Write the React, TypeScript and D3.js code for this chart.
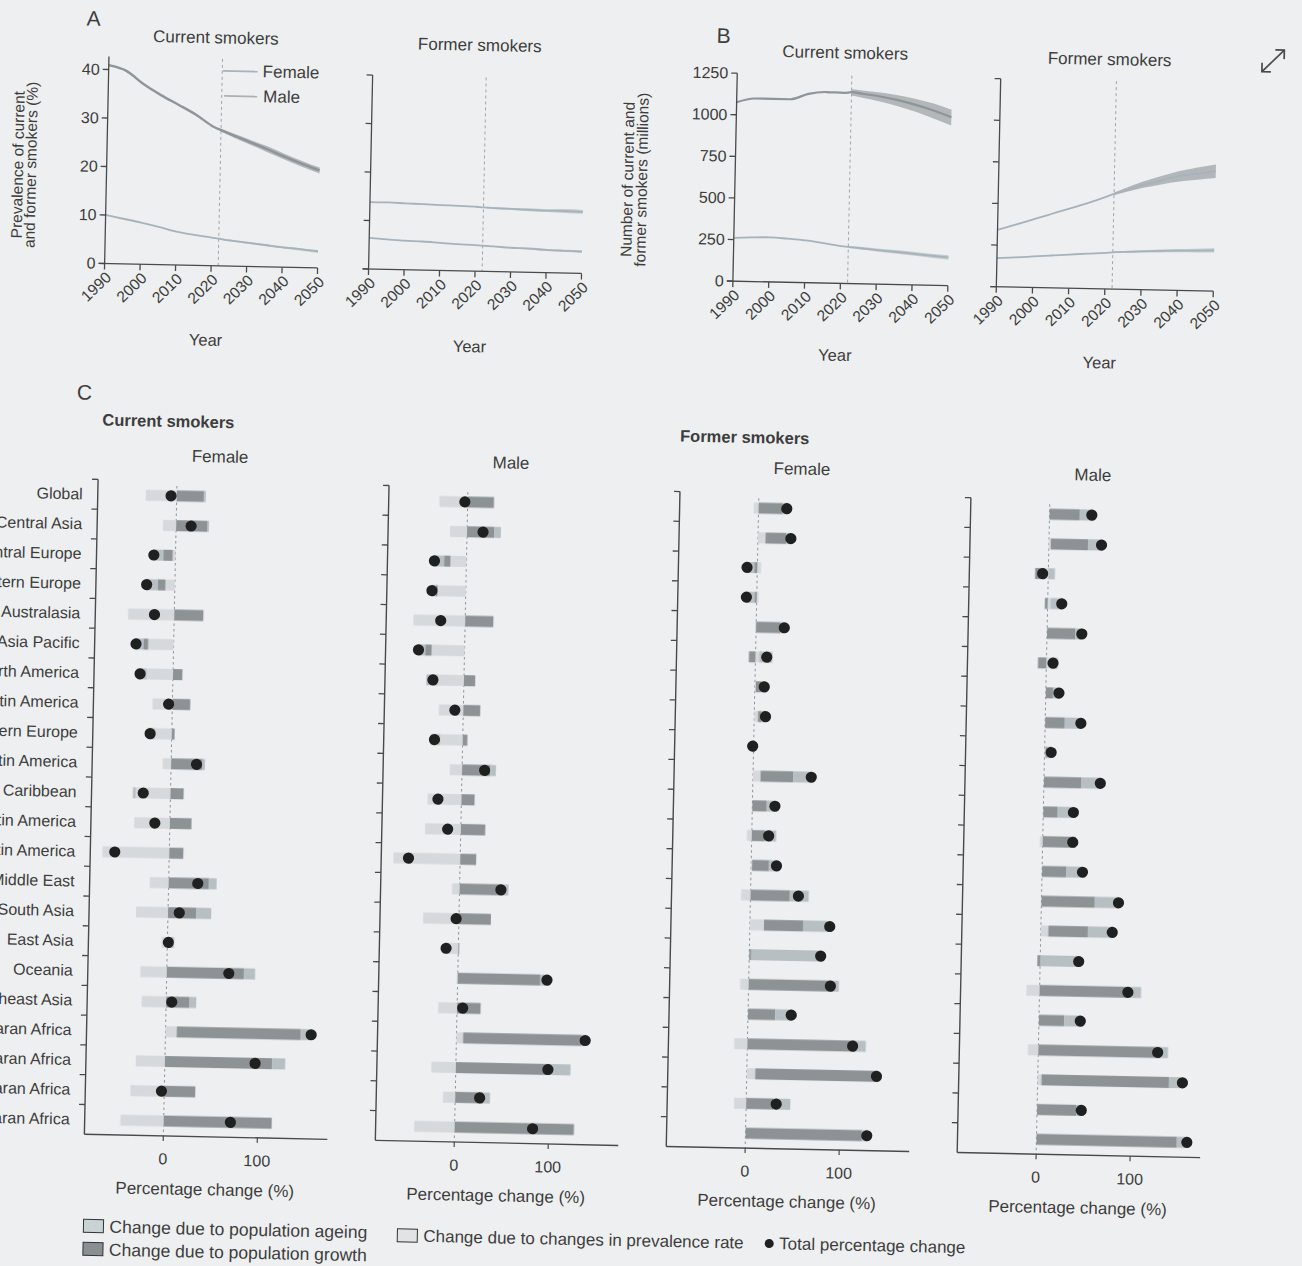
import React from 'react';
import * as d3 from 'd3';

// ---------------- data ----------------
const years = [1990, 1995, 2000, 2005, 2010, 2015, 2020, 2022, 2025, 2030, 2035, 2040, 2045, 2050];
const fcYears = [2022, 2025, 2030, 2035, 2040, 2045, 2050];
const xTickYears = [1990, 2000, 2010, 2020, 2030, 2040, 2050];
const forecastStart = 2022;

// Panel A: prevalence (%)
const prevCurMale = [40.9, 39.8, 37.1, 34.9, 33.0, 31.0, 28.6, 28.0, 27.1, 25.7, 24.3, 22.8, 21.4, 20.1];
const prevCurMaleLo = [27.7, 26.7, 25.2, 23.7, 22.2, 20.8, 19.5];
const prevCurMaleHi = [28.3, 27.5, 26.2, 24.9, 23.4, 22.0, 20.7];
const prevCurFemale = [10.0, 9.3, 8.6, 7.8, 6.9, 6.3, 5.8, 5.6, 5.3, 4.9, 4.5, 4.1, 3.8, 3.4];
const prevCurFemaleLo = [5.5, 5.1, 4.7, 4.3, 3.9, 3.5, 3.1];
const prevCurFemaleHi = [5.7, 5.5, 5.1, 4.7, 4.3, 4.0, 3.7];
const prevFormMale = [13.8, 13.8, 13.7, 13.6, 13.5, 13.4, 13.3, 13.2, 13.1, 13.0, 12.9, 12.8, 12.8, 12.7];
const prevFormMaleLo = [13.1, 12.9, 12.8, 12.6, 12.5, 12.4, 12.3];
const prevFormMaleHi = [13.3, 13.3, 13.2, 13.2, 13.1, 13.2, 13.1];
const prevFormFemale = [6.4, 6.2, 6.0, 5.9, 5.7, 5.5, 5.4, 5.3, 5.2, 5.0, 4.9, 4.7, 4.6, 4.5];
const prevFormFemaleLo = [5.2, 5.1, 4.9, 4.7, 4.5, 4.4, 4.2];
const prevFormFemaleHi = [5.4, 5.3, 5.1, 5.1, 4.9, 4.8, 4.8];

// Panel B: numbers (millions)
const numCurMale = [1075, 1100, 1100, 1100, 1135, 1148, 1145, 1150, 1142, 1128, 1108, 1082, 1050, 1012];
const numCurMaleLo = [1130, 1118, 1098, 1072, 1040, 1003, 962];
const numCurMaleHi = [1168, 1162, 1152, 1138, 1118, 1092, 1058];
const numCurFemale = [260, 265, 268, 262, 254, 240, 224, 220, 215, 205, 197, 188, 178, 170];
const numCurFemaleLo = [214, 207, 196, 186, 176, 165, 155];
const numCurFemaleHi = [226, 222, 214, 207, 199, 190, 183];
const numFormMale = [341, 375, 410, 445, 480, 515, 555, 572, 595, 630, 660, 688, 705, 722];
const numFormMaleLo = [565, 583, 612, 635, 655, 668, 680];
const numFormMaleHi = [580, 608, 650, 685, 718, 742, 762];
const numFormFemale = [171, 178, 186, 194, 202, 210, 217, 221, 225, 230, 235, 239, 242, 245];
const numFormFemaleLo = [217, 219, 223, 226, 229, 231, 232];
const numFormFemaleHi = [225, 231, 237, 244, 249, 253, 258];

const prevTicks = [0, 10, 20, 30, 40];
const numTicks = [0, 250, 500, 750, 1000, 1250];

// Panel C: decomposition of percentage change
const regions = [
  'Global', 'Central Asia', 'Central Europe', 'Eastern Europe', 'Australasia',
  'High-income Asia Pacific', 'High-income North America', 'Southern Latin America',
  'Western Europe', 'Andean Latin America', 'Caribbean', 'Central Latin America',
  'Tropical Latin America', 'North Africa and Middle East', 'South Asia', 'East Asia',
  'Oceania', 'Southeast Asia', 'Central sub-Saharan Africa', 'Eastern sub-Saharan Africa',
  'Southern sub-Saharan Africa', 'Western sub-Saharan Africa',
];

const curFemalePrev = [-33, -14, -3, -10, -49, -27, -28, -21, -18, -9, -37, -38, -71, -20, -34, -6, -28, -26, 12, -31, -36, -46];
const curFemaleGrowth = [29, 33, -10, -8, 31, -5, 10, 19, 3, 33, 14, 23, 15, 43, 30, 4, 82, 25, 132, 114, 33, 115];
const curFemaleAgeing = [2, 2, -10, -12, 0, -9, -10, 0, -8, 3, -3, 0, 0, 8, 16, 3, 12, 7, 10, 14, 0, 0];
const curFemaleTotal = [-6, 16, -23, -30, -21, -40, -35, -4, -23, 27, -29, -16, -58, 31, 12, 1, 66, 6, 155, 96, -3, 71];

const curMalePrev = [-30, -18, -17, -30, -55, -35, -28, -26, -24, -13, -36, -38, -71, -8, -38, -10, -1, -20, 7, -26, -13, -43];
const curMaleGrowth = [28, 29, -7, -2, 30, -7, 12, 18, 5, 30, 14, 26, 17, 44, 34, 1, 88, 25, 126, 100, 30, 127];
const curMaleAgeing = [0, 7, -10, -4, 0, -7, -12, 0, -10, 6, 0, 0, 0, 8, 0, -4, 6, 0, 4, 22, 7, 0];
const curMaleTotal = [-3, 17, -34, -36, -26, -49, -33, -9, -30, 24, -25, -14, -55, 44, -3, -13, 95, 6, 137, 98, 26, 83];

const formFemalePrev = [-5, 8, 4, 2, -1, 4, 1, 4, -2, 8, 0, -5, 1, -10, 15, 0, -9, 0, -14, 9, -13, 0];
const formFemaleGrowth = [26, 22, -3, -2, 26, -7, 6, 4, 1, 35, 15, 14, 18, 42, 42, 2, 88, 29, 115, 130, 29, 124];
const formFemaleAgeing = [5, 5, -10, -8, 4, 14, 3, 4, 0, 19, 9, 12, 8, 20, 25, 72, 8, 17, 11, 0, 18, 6];
const formFemaleTotal = [30, 35, -11, -11, 30, 12, 10, 12, -1, 62, 24, 18, 27, 51, 85, 76, 87, 46, 112, 138, 32, 129];

const formMalePrev = [0, 2, -4, 3, 0, 4, 0, 0, 1, 0, 0, -3, 0, 0, 8, 0, -14, 0, -11, 4, 0, 0];
const formMaleGrowth = [32, 40, -10, -3, 30, -9, 8, 21, 2, 40, 15, 35, 26, 57, 42, -3, 93, 27, 130, 136, 42, 149];
const formMaleAgeing = [13, 14, 7, 12, 7, 8, 6, 16, 4, 20, 17, 0, 17, 25, 26, 42, 15, 17, 8, 12, 5, 10];
const formMaleTotal = [45, 56, -6, 15, 37, 7, 14, 38, 7, 60, 32, 32, 43, 82, 76, 41, 94, 44, 127, 154, 47, 160];

const pctTicks = [0, 100];

// ---------------- style ----------------
const W = 1302, H = 1266;
const ROT = 1.2, CX = 651, CY = 633;
const FONT = "'Liberation Sans Narrow','Liberation Sans',Arial,sans-serif";
const BG = '#edeff0';
const TXT = '#3d3d3d';
const AX = '#4a4a4a';
const MALE = '#8e9598';
const MALE_BAND = '#9da4a7';
const FEMALE = '#a6b3ba';
const FEMALE_BAND = '#b5c0c6';
const C_PREV = '#d6d9db';
const C_GROWTH = '#8d9395';
const C_AGEING = '#b7bfc2';

type Series = { vals: number[]; lo: number[]; hi: number[]; color: string; band: string; width: number };

function LinePanel(p: {
  x0: number; x1: number; yBottom: number; yTop: number; yMax: number; axisTop: number;
  ticks: number[]; showLabels: boolean; series: Series[]; title: string; titleY: number; yearY: number;
  fs: number;
}) {
  const x = d3.scaleLinear().domain([1990, 2050]).range([p.x0, p.x1]);
  const y = d3.scaleLinear().domain([0, p.yMax]).range([p.yBottom, p.yTop]);
  const line = d3.line<number>().x((_, i) => x(years[i])).y((d) => y(d)).curve(d3.curveMonotoneX);
  const cx = (p.x0 + p.x1) / 2;
  return (
    <g>
      <text x={cx} y={p.titleY} textAnchor="middle" dominantBaseline="central" fontSize={p.fs} fill={TXT}>{p.title}</text>
      <line x1={x(forecastStart)} x2={x(forecastStart)} y1={p.axisTop} y2={p.yBottom} stroke="#9a9ea0" strokeWidth={0.9} strokeDasharray="3,3" />
      {p.series.map((s, k) => {
        const a = d3
          .area<number>()
          .x((_, i) => x(fcYears[i]))
          .y0((_, i) => y(s.lo[i]))
          .y1((_, i) => y(s.hi[i]))
          .curve(d3.curveMonotoneX);
        return (
          <g key={k}>
            <path d={a(s.lo) || ''} fill={s.band} opacity={0.75} />
            <path d={line(s.vals) || ''} fill="none" stroke={s.color} strokeWidth={s.width} strokeLinejoin="round" />
          </g>
        );
      })}
      <line x1={p.x0} x2={p.x0} y1={p.axisTop} y2={p.yBottom} stroke={AX} strokeWidth={1.3} />
      <line x1={p.x0 - 6} x2={p.x1} y1={p.yBottom} y2={p.yBottom} stroke={AX} strokeWidth={1.3} />
      {p.ticks.map((t) => (
        <g key={t}>
          <line x1={p.x0 - 6} x2={p.x0} y1={y(t)} y2={y(t)} stroke={AX} strokeWidth={1.3} />
          {p.showLabels && (
            <text x={p.x0 - 9} y={y(t)} textAnchor="end" dominantBaseline="central" fontSize={16} fill={TXT}>{t}</text>
          )}
        </g>
      ))}
      {xTickYears.map((t) => (
        <g key={t}>
          <line x1={x(t)} x2={x(t)} y1={p.yBottom} y2={p.yBottom + 6} stroke={AX} strokeWidth={1.3} />
          <text transform={`translate(${x(t) + 4},${p.yBottom + 11}) rotate(-45)`} textAnchor="end" dominantBaseline="central" fontSize={15.5} fill={TXT}>{t}</text>
        </g>
      ))}
      <text x={cx - 4} y={p.yearY} textAnchor="middle" dominantBaseline="central" fontSize={16.5} fill={TXT}>Year</text>
    </g>
  );
}

function BarPanel(p: {
  x0: number; prev: number[]; growth: number[]; ageing: number[]; total: number[];
  labels: boolean; subtitle: string;
}) {
  const x = d3.scaleLinear().domain([-84, 174.5]).range([p.x0, p.x0 + 243]);
  const y = d3.scaleBand<string>().domain(regions).range([491, 1146]);
  const bw = y.bandwidth();
  const barH = 11;
  const cxp = p.x0 + 121.5;
  const comps = [
    { vals: p.prev, color: C_PREV },
    { vals: p.growth, color: C_GROWTH },
    { vals: p.ageing, color: C_AGEING },
  ];
  return (
    <g>
      <text x={cxp} y={466} textAnchor="middle" dominantBaseline="central" fontSize={17} fill={TXT}>{p.subtitle}</text>
      <line x1={x(0)} x2={x(0)} y1={496} y2={1146} stroke="#8f9496" strokeWidth={1} strokeDasharray="2.5,3" />
      <g filter="url(#soft)">
        {regions.map((r, i) => {
          let pos = 0, neg = 0;
          const yc = (y(r) as number) + bw / 2;
          return (
            <g key={r}>
              {comps.map((c, k) => {
                const v = c.vals[i];
                let a, b;
                if (v >= 0) { a = pos; b = pos + v; pos = b; } else { b = neg; a = neg + v; neg = a; }
                if (Math.abs(v) < 0.01) return null;
                return <rect key={k} x={x(a)} y={yc - barH / 2} width={x(b) - x(a)} height={barH} fill={c.color} />;
              })}
            </g>
          );
        })}
      </g>
      {regions.map((r, i) => {
        const yc = (y(r) as number) + bw / 2;
        return <circle key={r} cx={x(p.total[i])} cy={yc} r={5.6} fill="#1f2020" />;
      })}
      <line x1={p.x0} x2={p.x0} y1={491} y2={1146} stroke={AX} strokeWidth={1.4} />
      <line x1={p.x0} x2={p.x0 + 243} y1={1146} y2={1146} stroke={AX} strokeWidth={1.4} />
      {regions.map((r) => (
        <line key={r} x1={p.x0 - 6} x2={p.x0} y1={y(r) as number} y2={y(r) as number} stroke={AX} strokeWidth={1.3} />
      ))}
      {p.labels && regions.map((r) => (
        <text key={r} x={80} y={(y(r) as number) + bw / 2} textAnchor="end" dominantBaseline="central" fontSize={16} fill={TXT}>{r}</text>
      ))}
      {pctTicks.map((t) => (
        <g key={t}>
          <line x1={x(t)} x2={x(t)} y1={1146} y2={1151} stroke={AX} strokeWidth={1.2} />
          <text x={x(t)} y={1169} textAnchor="middle" dominantBaseline="central" fontSize={16} fill={TXT}>{t}</text>
        </g>
      ))}
      <text x={cxp} y={1199} textAnchor="middle" dominantBaseline="central" fontSize={17} fill={TXT}>Percentage change (%)</text>
    </g>
  );
}

export default function App() {
  const prevSeriesCur: Series[] = [
    { vals: prevCurFemale, lo: prevCurFemaleLo, hi: prevCurFemaleHi, color: FEMALE, band: FEMALE_BAND, width: 1.8 },
    { vals: prevCurMale, lo: prevCurMaleLo, hi: prevCurMaleHi, color: MALE, band: MALE_BAND, width: 2.4 },
  ];
  const prevSeriesForm: Series[] = [
    { vals: prevFormFemale, lo: prevFormFemaleLo, hi: prevFormFemaleHi, color: FEMALE, band: FEMALE_BAND, width: 1.8 },
    { vals: prevFormMale, lo: prevFormMaleLo, hi: prevFormMaleHi, color: FEMALE, band: FEMALE_BAND, width: 1.8 },
  ];
  const numSeriesCur: Series[] = [
    { vals: numCurFemale, lo: numCurFemaleLo, hi: numCurFemaleHi, color: FEMALE, band: FEMALE_BAND, width: 1.8 },
    { vals: numCurMale, lo: numCurMaleLo, hi: numCurMaleHi, color: MALE, band: MALE_BAND, width: 2.2 },
  ];
  const numSeriesForm: Series[] = [
    { vals: numFormFemale, lo: numFormFemaleLo, hi: numFormFemaleHi, color: FEMALE, band: FEMALE_BAND, width: 1.8 },
    { vals: numFormMale, lo: numFormMaleLo, hi: numFormMaleHi, color: FEMALE, band: MALE_BAND, width: 1.8 },
  ];
  return (
    <svg width={W} height={H} viewBox={`0 0 ${W} ${H}`} style={{ position: 'absolute', left: 0, top: 0, display: 'block' }} fontFamily={FONT}>
      <defs>
        <filter id="soft" x="-5%" y="-50%" width="110%" height="200%">
          <feGaussianBlur stdDeviation="0.7" />
        </filter>
      </defs>
      <rect x={0} y={0} width={W} height={H} fill={BG} />
      <g transform={`rotate(${ROT} ${CX} ${CY})`}>
        {/* Panel A */}
        <text x={74} y={30} dominantBaseline="central" fontSize={21} fill={TXT}>A</text>
        <text transform={`translate(8,178) rotate(-90)`} textAnchor="middle" dominantBaseline="central" fontSize={15.5} fill={TXT}>Prevalence of current</text>
        <text transform={`translate(21,178) rotate(-90)`} textAnchor="middle" dominantBaseline="central" fontSize={15.5} fill={TXT}>and former smokers (%)</text>
        <LinePanel x0={97} x1={310} yBottom={275} yTop={81} yMax={40} axisTop={68} ticks={prevTicks} showLabels={true}
          series={prevSeriesCur} title="Current smokers" titleY={47} yearY={349} fs={17} />
        <LinePanel x0={361} x1={574} yBottom={275} yTop={81} yMax={40} axisTop={81} ticks={prevTicks} showLabels={false}
          series={prevSeriesForm} title="Former smokers" titleY={49} yearY={350} fs={17} />
        <line x1={211} x2={246} y1={80} y2={80} stroke={FEMALE} strokeWidth={1.8} />
        <text x={251} y={80} dominantBaseline="central" fontSize={17} fill={TXT}>Female</text>
        <line x1={213} x2={246} y1={105} y2={105} stroke="#b3aeae" strokeWidth={1.8} />
        <text x={252} y={105} dominantBaseline="central" fontSize={17} fill={TXT}>Male</text>

        {/* Panel B */}
        <text x={704} y={34} dominantBaseline="central" fontSize={21} fill={TXT}>B</text>
        <text transform={`translate(618,180) rotate(-90)`} textAnchor="middle" dominantBaseline="central" fontSize={15.5} fill={TXT}>Number of current and</text>
        <text transform={`translate(632,180) rotate(-90)`} textAnchor="middle" dominantBaseline="central" fontSize={15.5} fill={TXT}>former smokers (millions)</text>
        <LinePanel x0={725.5} x1={940.5} yBottom={279.5} yTop={71.5} yMax={1250} axisTop={71.5} ticks={numTicks} showLabels={true}
          series={numSeriesCur} title="Current smokers" titleY={49} yearY={351} fs={17} />
        <LinePanel x0={989} x1={1206} yBottom={279.5} yTop={71.5} yMax={1250} axisTop={71.5} ticks={numTicks} showLabels={false}
          series={numSeriesForm} title="Former smokers" titleY={50} yearY={353} fs={17} />
        <g stroke="#4a4a4a" strokeWidth={1.7} fill="none">
          <line x1={1250} y1={59} x2={1272} y2={37} />
          <polyline points="1263,37 1272,37 1272,46" />
          <polyline points="1250,50 1250,59 1259,59" />
        </g>

        {/* Panel C */}
        <text x={72} y={404} dominantBaseline="central" fontSize={21} fill={TXT}>C</text>
        <text x={98} y={431} dominantBaseline="central" fontSize={16.5} fontWeight="bold" fill={TXT}>Current smokers</text>
        <text x={676} y={435} dominantBaseline="central" fontSize={16.5} fontWeight="bold" fill={TXT}>Former smokers</text>
        <BarPanel x0={95} prev={curFemalePrev} growth={curFemaleGrowth} ageing={curFemaleAgeing} total={curFemaleTotal} labels={true} subtitle="Female" />
        <BarPanel x0={386} prev={curMalePrev} growth={curMaleGrowth} ageing={curMaleAgeing} total={curMaleTotal} labels={false} subtitle="Male" />
        <BarPanel x0={677} prev={formFemalePrev} growth={formFemaleGrowth} ageing={formFemaleAgeing} total={formFemaleTotal} labels={false} subtitle="Female" />
        <BarPanel x0={968} prev={formMalePrev} growth={formMaleGrowth} ageing={formMaleAgeing} total={formMaleTotal} labels={false} subtitle="Male" />

        <rect x={96} y={1231} width={20} height={13} fill="#c9d3d5" stroke="#333" strokeWidth={1} />
        <text x={122} y={1238} dominantBaseline="central" fontSize={17.5} fill={TXT}>Change due to population ageing</text>
        <rect x={96} y={1254} width={20} height={13} fill="#8a8f91" stroke="#333" strokeWidth={1} />
        <text x={122} y={1261} dominantBaseline="central" fontSize={17.5} fill={TXT}>Change due to population growth</text>
        <rect x={410} y={1234} width={20} height={13} fill="#e2e3e4" stroke="#333" strokeWidth={1} />
        <text x={436} y={1241} dominantBaseline="central" fontSize={17} fill={TXT}>Change due to changes in prevalence rate</text>
        <circle cx={782} cy={1241} r={4.5} fill="#1f2020" />
        <text x={792} y={1241} dominantBaseline="central" fontSize={17} fill={TXT}>Total percentage change</text>
      </g>
    </svg>
  );
}
